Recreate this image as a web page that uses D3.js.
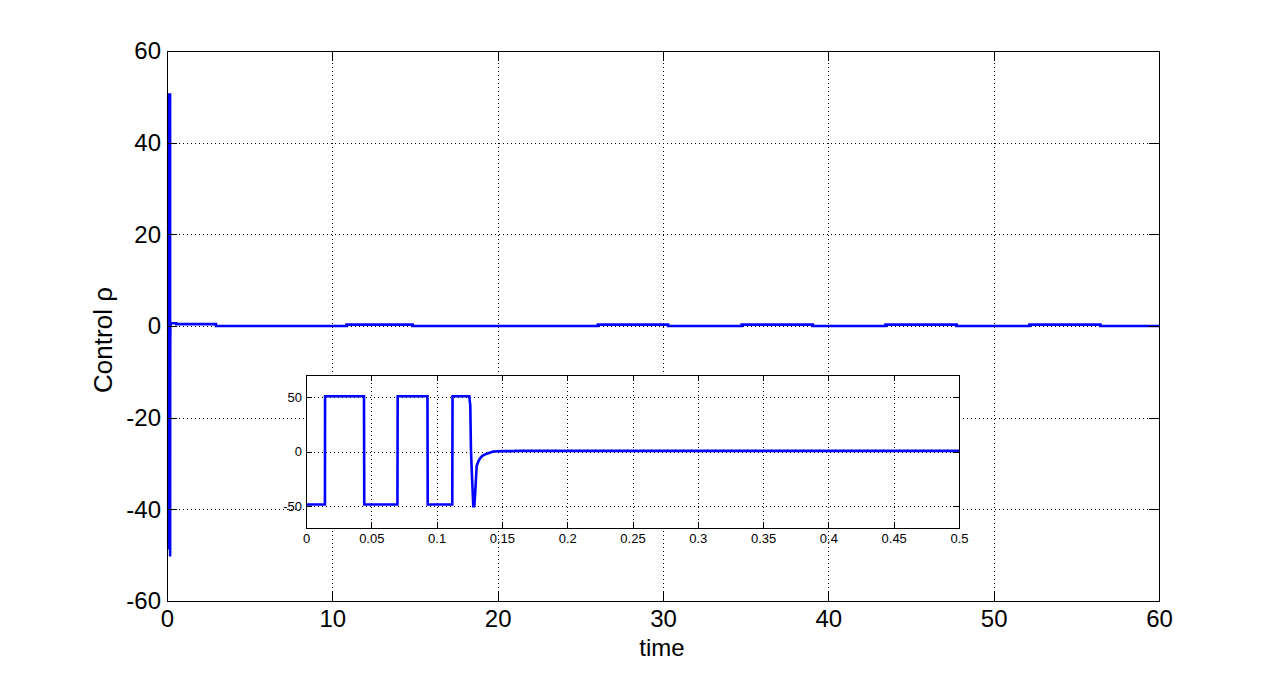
<!DOCTYPE html>
<html>
<head>
<meta charset="utf-8">
<script src="https://cdn.jsdelivr.net/npm/d3@7"></script>
<style>
  body { margin: 0; background: #fff; }
  svg text { font-family: "Liberation Sans", Arial, sans-serif; fill: #000; }
  .grid line { stroke: #000; stroke-width: 1; stroke-dasharray: 1,3; shape-rendering: crispEdges; }
  .axis path, .axis line { stroke: #000; shape-rendering: crispEdges; }
</style>
</head>
<body>
<script>
// main axis ranges / ticks
const mainXTicks = [0, 10, 20, 30, 40, 50, 60];
const mainYTicks = [-60, -40, -20, 0, 20, 40, 60];

// inset ticks
const insetXTicks = [0, 0.05, 0.1, 0.15, 0.2, 0.25, 0.3, 0.35, 0.4, 0.45, 0.5];
const insetYTicks = [-50, 0, 50];

// control rho over the first 0.5 s
const zoomTime  = [0, 0.0145, 0.0146, 0.0444, 0.0446, 0.0700, 0.0702, 0.0930, 0.0932, 0.1120, 0.1122,
                   0.1250, 0.1258, 0.1263, 0.1270, 0.1281, 0.1289, 0.1296, 0.1307, 0.1320, 0.1332,
                   0.1350, 0.1384, 0.1434, 0.1505, 0.1600, 0.1602, 0.5];
const zoomValue = [-48.5, -48.5, 50.5, 50.5, -48.5, -48.5, 50.5, 50.5, -48.5, -48.5, 50.5,
                   50.5, 42, 2, -20, -50, -50, -37, -13, -9, -6.4,
                   -4, -2, 0, 0.3, 0.3, 0.6, 0.6];

// small bumps later in the run
const bumpStart = [0.5, 10.8, 26.0, 34.7, 43.4, 52.1];
const bumpEnd   = [2.9, 14.8, 30.25, 39.0, 47.7, 56.4];
const bumpLevel = [0.4, 0.3, 0.3, 0.3, 0.3, 0.3];

const W = 1281, H = 675;
const svg = d3.select('body').append('svg')
    .attr('width', W)
    .attr('height', H);

// build the long series
var series = zoomTime.map((t, i) => ({t: t, v: zoomValue[i]}));
bumpStart.forEach((s, i) => {
  series.push({t: Math.max(s, 0.5001), v: i === 0 ? bumpLevel[i] : 0});
  series.push({t: Math.max(s, 0.5002), v: bumpLevel[i]});
  series.push({t: bumpEnd[i], v: bumpLevel[i]});
  series.push({t: bumpEnd[i] + 0.0001, v: 0});
});
series.push({t: 60, v: 0});

const hyphen = f => (d => f(d).replace('\u2212', '-'));

function drawGrid(g, x, y, w, h, xTicks, yTicks) {
  const grid = g.append('g').attr('class', 'grid');
  grid.selectAll('.gx').data(xTicks.slice(1, -1)).enter().append('line')
      .attr('x1', d => Math.round(x(d)) + 0.5).attr('x2', d => Math.round(x(d)) + 0.5)
      .attr('y1', 0).attr('y2', h);
  grid.selectAll('.gy').data(yTicks.filter(d => y(d) > 1 && y(d) < h - 1)).enter().append('line')
      .attr('y1', d => Math.round(y(d)) + 0.5).attr('y2', d => Math.round(y(d)) + 0.5)
      .attr('x1', 0).attr('x2', w);
}

function frame(g, x, y, w, h, xTicks, yTicks, tickLen, fontSize, xFmt, yFmt, padX, padY) {
  const bottom = g.append('g').attr('class', 'axis').attr('transform', `translate(0,${h})`)
      .call(d3.axisBottom(x).tickValues(xTicks).tickSizeInner(-tickLen).tickSizeOuter(0).tickPadding(padX).tickFormat(xFmt));
  const top = g.append('g').attr('class', 'axis')
      .call(d3.axisTop(x).tickValues(xTicks).tickSizeInner(-tickLen).tickSizeOuter(0).tickFormat(''));
  const left = g.append('g').attr('class', 'axis')
      .call(d3.axisLeft(y).tickValues(yTicks).tickSizeInner(-tickLen).tickSizeOuter(0).tickPadding(padY).tickFormat(yFmt));
  const right = g.append('g').attr('class', 'axis').attr('transform', `translate(${w},0)`)
      .call(d3.axisRight(y).tickValues(yTicks).tickSizeInner(-tickLen).tickSizeOuter(0).tickFormat(''));
  [bottom, top, left, right].forEach(a => {
    a.selectAll('text').attr('font-size', fontSize).attr('font-family', null);
    a.select('.domain').remove();
  });
  g.append('rect').attr('x', 0.5).attr('y', 0.5).attr('width', w).attr('height', h)
      .attr('fill', 'none').attr('stroke', '#000').attr('shape-rendering', 'crispEdges');
}

// ---- main plot
const mL = 167, mT = 51, mW = 992, mH = 550;
const mx = d3.scaleLinear().domain([0, 60]).range([0, mW]);
const my = d3.scaleLinear().domain([-60, 60]).range([mH, 0]);
const main = svg.append('g').attr('transform', `translate(${mL},${mT})`);

drawGrid(main, mx, my, mW, mH, mainXTicks, mainYTicks);

main.append('path').datum(series)
    .attr('d', d3.line().x(d => mx(d.t) + 1).y(d => my(d.v)))
    .attr('fill', 'none').attr('stroke', '#0000ff').attr('stroke-width', 2.6);

frame(main, mx, my, mW, mH, mainXTicks, mainYTicks, 10, '24px',
      hyphen(d3.format('d')), hyphen(d3.format('d')), 9, 6);

main.append('text').attr('x', mx(30) - 1).attr('y', 656 - mT)
    .attr('text-anchor', 'middle').attr('font-size', '24px').text('time');
main.append('text')
    .attr('transform', `translate(${112 - mL},${340 - mT}) rotate(-90)`)
    .attr('text-anchor', 'middle').attr('font-size', '26px').text('Control ρ');

// ---- inset
const iL = 306, iT = 375, iW = 653, iH = 153;
const ix = d3.scaleLinear().domain([0, 0.5]).range([0, iW]);
const iy = d3.scaleLinear().domain([-70, 70]).range([iH, 0]);
const inset = svg.append('g').attr('transform', `translate(${iL},${iT})`);
inset.append('rect').attr('width', iW).attr('height', iH).attr('fill', '#fff');
drawGrid(inset, ix, iy, iW, iH, insetXTicks, insetYTicks);

const zoomData = zoomTime.map((t, i) => ({t: t, v: zoomValue[i]}));
inset.append('path').datum(zoomData)
    .attr('d', d3.line().x(d => ix(d.t)).y(d => iy(d.v)))
    .attr('fill', 'none').attr('stroke', '#0000ff').attr('stroke-width', 2.6);

frame(inset, ix, iy, iW, iH, insetXTicks, insetYTicks, 6, '13px',
      d => d3.format('')(+d.toFixed(2)), hyphen(d3.format('d')), 6, 4);
</script>
</body>
</html>
